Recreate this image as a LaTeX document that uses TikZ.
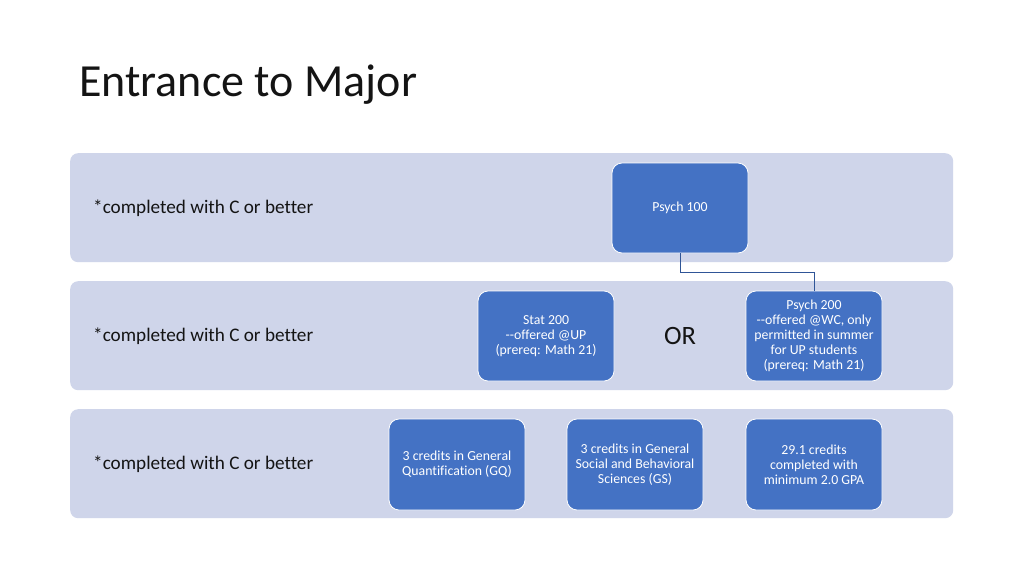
\documentclass[tikz,border=0pt]{standalone}
\usepackage{fontspec}
\setmainfont[Ligatures={NoCommon}]{Carlito}
\definecolor{band}{RGB}{207,213,234}
\definecolor{boxblue}{RGB}{68,114,196}
\definecolor{linkblue}{RGB}{47,85,151}
\definecolor{txt}{RGB}{20,20,20}
\begin{document}
\begin{tikzpicture}[x=1pt,y=-1pt,
  bandbox/.style={fill=band,draw=none,rounded corners=8pt},
  item/.style={fill=boxblue,draw=white,line width=0.8pt,rounded corners=10pt,minimum width=136pt,minimum height=90pt,text=white,align=center,font=\fontsize{13.8}{15}\selectfont,inner sep=2pt},
  lbl/.style={anchor=west,text=txt,font=\fontsize{19.2}{23}\selectfont,inner sep=0pt},
  link/.style={draw=linkblue,line width=0.9pt}]
\useasboundingbox (0,0) rectangle (1024,576);
\fill[white] (0,0) rectangle (1024,576);
\node[anchor=west,inner sep=0pt,text=txt,font=\fontsize{46}{54}\selectfont] (title) at (79,85) {Entrance to Major};
\node[bandbox,minimum width=883pt,minimum height=109pt,anchor=north west] (b1) at (70,153) {};
\node[bandbox,minimum width=883pt,minimum height=109pt,anchor=north west] (b2) at (70,281) {};
\node[bandbox,minimum width=883pt,minimum height=109pt,anchor=north west] (b3) at (70,409) {};
\node[lbl] (l1) at (93,208) {*completed with C or better};
\node[lbl] (l2) at (93,336) {*completed with C or better};
\node[lbl] (l3) at (93,464) {*completed with C or better};
\node[item] (p100) at (680,208) {Psych 100};
\node[item] (s200) at (546,336) {Stat 200\\{-}{-}offered @UP\\(prereq: Math 21)};
\node[text=txt,font=\fontsize{26.5}{30}\selectfont,inner sep=0pt] (or) at (680,336) {OR};
\node[item] (p200) at (814,336) {Psych 200\\{-}{-}offered @WC, only\\permitted in summer\\for UP students\\(prereq: Math 21)};
\node[item,minimum height=91pt] (gq) at (457,464.5) {3 credits in General\\Quantification (GQ)};
\node[item,minimum height=91pt] (gs) at (635,464.5) {3 credits in General\\Social and Behavioral\\Sciences (GS)};
\node[item,minimum height=91pt] (gpa) at (814,464.5) {29.1 credits\\completed with\\minimum 2.0 GPA};
\draw[link] (p100.south) -- ++(0,19) -| (p200.north);
\end{tikzpicture}
\end{document}
